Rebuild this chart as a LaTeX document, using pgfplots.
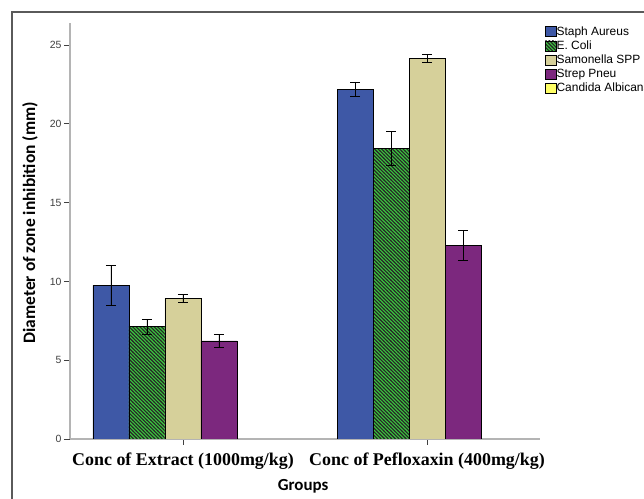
\documentclass[border=0pt]{standalone}
\usepackage{pgfplots}
\pgfplotsset{compat=1.18}
\usepackage{fontspec}
\setmainfont{Liberation Serif}
\newfontfamily\arial{Liberation Sans}
\newfontfamily\calibri{Carlito}
\usetikzlibrary{patterns}

% dense "\" hatching with thicker lines than the stock pattern
\pgfdeclarepatternformonly{hatchnw}{\pgfqpoint{-1pt}{-1pt}}{\pgfqpoint{4.6pt}{4.6pt}}{\pgfqpoint{3.6pt}{3.6pt}}{
  \pgfsetlinewidth{1.1pt}
  \pgfpathmoveto{\pgfqpoint{-0.2pt}{3.8pt}}
  \pgfpathlineto{\pgfqpoint{3.8pt}{-0.2pt}}
  \pgfusepath{stroke}
}

\definecolor{staph}{RGB}{62,88,166}
\definecolor{ecoli}{RGB}{58,196,62}
\definecolor{samon}{RGB}{214,208,154}
\definecolor{strep}{RGB}{124,40,126}
\definecolor{candida}{RGB}{255,255,102}
\definecolor{axgray}{RGB}{180,180,180}
\definecolor{framegray}{RGB}{90,90,90}

\begin{document}
\begin{tikzpicture}[x=1bp,y=1bp]
% picture area in pixels, origin at the axis corner (70,439)
\useasboundingbox (-70,-60) rectangle (574,439);
\clip (-70,-60) rectangle (574,439);
\fill[white] (-70,-60) rectangle (574,439);
% outer frame (top and left edges visible)
\draw[framegray, line width=1.2bp] (-58,-70) -- (-58,427) -- (580,427);

\begin{axis}[
    scale only axis,
    width=470bp, height=416bp,
    xmin=-0.463, xmax=1.463,
    ymin=0, ymax=26.4,
    axis lines*=left,
    axis line style={axgray, line width=2bp},
    xtick={0,1},
    xticklabels={Conc of Extract (1000mg/kg), Conc of Pefloxaxin (400mg/kg)},
    ytick={0,5,10,15,20,25},
    tick align=outside,
    major tick length=6bp,
    tick style={black!75, line width=0.9bp},
    /pgf/number format/assume math mode=true,
    yticklabel style={font=\arial\fontsize{10.5}{12}\selectfont, text=black!75, xshift=1bp},
    xticklabel style={font=\bfseries\fontsize{18}{20}\selectfont, yshift=-4bp},
    ylabel={Diameter of zone inhibition (mm)},
    ylabel style={font=\calibri\bfseries\fontsize{17.5}{19}\selectfont,
        at={(axis description cs:-0.085,0.52)}, anchor=center},
    xlabel={Groups},
    xlabel style={font=\calibri\bfseries\fontsize{17}{19}\selectfont,
        at={(axis description cs:0.496,-0.114)}, anchor=center},
    ybar, bar width=36bp,
    legend style={at={(axis description cs:1.004,0.998)}, anchor=north west,
        draw=none, fill=none, font=\arial\fontsize{12}{13}\selectfont,
        row sep=2.9bp, nodes={inner sep=0.6bp}},
    legend cell align=left,
    legend image code/.code={\draw[#1] (0bp,-5bp) rectangle (10.5bp,5bp);},
    error bars/y dir=both,
    error bars/y explicit,
    error bars/error bar style={black, line width=0.8bp},
    error bars/error mark options={black, line width=0.8bp, mark size=5bp, rotate=90},
]
\addplot[draw=black, fill=staph, bar shift=-72bp] coordinates {
    (0,9.75) +- (0,1.29)
    (1,22.19) +- (0,0.47)
};
\addlegendentry{Staph Aureus}
\addplot[draw=black, fill=ecoli,
    postaction={pattern=hatchnw, pattern color=black!85},
    bar shift=-36bp] coordinates {
    (0,7.13) +- (0,0.47)
    (1,18.44) +- (0,1.07)
};
\addlegendentry{E. Coli}
\addplot[draw=black, fill=samon, bar shift=0bp] coordinates {
    (0,8.93) +- (0,0.25)
    (1,24.14) +- (0,0.26)
};
\addlegendentry{Samonella SPP}
\addplot[draw=black, fill=strep, bar shift=36bp] coordinates {
    (0,6.22) +- (0,0.41)
    (1,12.29) +- (0,0.93)
};
\addlegendentry{Strep Pneu}
\addlegendimage{draw=black, fill=candida}
\addlegendentry{Candida Albicans}
\end{axis}
\end{tikzpicture}
\end{document}
